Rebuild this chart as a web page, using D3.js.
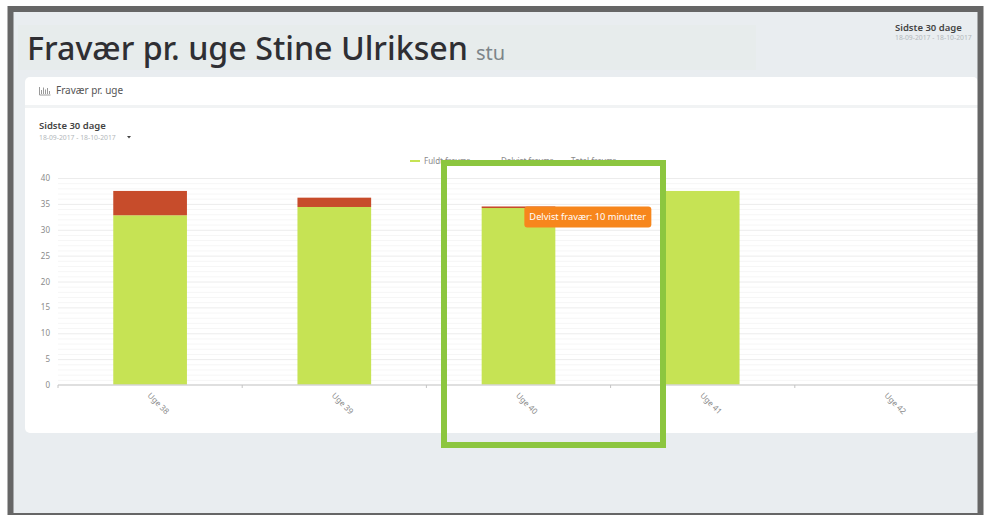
<!DOCTYPE html>
<html>
<head>
<meta charset="utf-8">
<script src="https://cdn.jsdelivr.net/npm/d3@7"></script>
<style>
  body { margin: 0; background: #fff; }
  text { font-family: "Noto Sans", sans-serif; }
  .axis path, .axis line { stroke: #d4d4d4; }
  .axis text { fill: #8a8a8a; }
</style>
</head>
<body>
<div id="chart"></div>
<script>
const weeks = ["Uge 38", "Uge 39", "Uge 40", "Uge 41", "Uge 42"]
const fuldtFravaer = [32.8, 34.4, 34.2, 37.5, 0]
const delvistFravaer = [4.7, 1.8, 0.3, 0, 0]
const legendLabels = ["Fuldt fravær", "Delvist fravær", "Total fravær"]
const legendColors = ["#c6e354", "#f0d9a8", "#e4eebc"]
const yTicks = [0, 5, 10, 15, 20, 25, 30, 35, 40]
const yMinorTicks = d3.range(0, 41)
const tooltipText = "Delvist fravær: 10 minutter"
const pageTitle = "Fravær pr. uge Stine Ulriksen"
const pageUser = "stu"
const panelTitle = "Fravær pr. uge"
const rangeTitle = "Sidste 30 dage"
const rangeDates = "18-09-2017 - 18-10-2017"

const width = 987
const height = 515
const margin = { top: 178, right: 8, bottom: 130, left: 58 }

const svg = d3.select("#chart").append("svg")
  .attr("width", width)
  .attr("height", height)
  .style("display", "block")

// page background, the frame goes on at the end
svg.append("rect").attr("x", 10).attr("y", 9).attr("width", 971).attr("height", 506).attr("fill", "#e9edf0")
svg.append("rect").attr("x", 18).attr("y", 25).attr("width", 738).attr("height", 45).attr("fill", "#e7ecec")

svg.append("text").attr("x", 27).attr("y", 60)
  .attr("font-size", 32.2).attr("font-weight", 500).attr("fill", "#2f2f33")
  .text(pageTitle)
svg.append("text").attr("x", 476).attr("y", 60)
  .attr("font-size", 20).attr("fill", "#7d8589")
  .text(pageUser)

svg.append("text").attr("x", 895).attr("y", 31)
  .attr("font-size", 9.5).attr("font-weight", 600).attr("fill", "#444")
  .text(rangeTitle)
svg.append("text").attr("x", 895).attr("y", 40)
  .attr("font-size", 6.8).attr("fill", "#b3b8bb")
  .text(rangeDates)

// card
svg.append("rect").attr("x", 25).attr("y", 77).attr("width", 953).attr("height", 356).attr("rx", 5).attr("fill", "#fff")
svg.append("rect").attr("x", 25).attr("y", 105).attr("width", 953).attr("height", 3).attr("fill", "#f1f3f4")

const icon = svg.append("g").attr("fill", "none").attr("stroke", "#9a9a9a").attr("stroke-width", 1)
icon.append("path").attr("d", "M39.5 87V95H50.5M41.5 94V90M43.5 94V87.5M45.5 94V89.5M47.5 94V88M49.5 94V91")

svg.append("text").attr("x", 56).attr("y", 94)
  .attr("font-size", 10).attr("fill", "#555")
  .text(panelTitle)
svg.append("text").attr("x", 39).attr("y", 129)
  .attr("font-size", 9.5).attr("font-weight", 600).attr("fill", "#444")
  .text(rangeTitle)
svg.append("text").attr("x", 39).attr("y", 139.5)
  .attr("font-size", 6.8).attr("fill", "#b3b8bb")
  .text(rangeDates)
svg.append("path").attr("d", "M127 136h4l-2 2.5z").attr("fill", "#444")

const innerWidth = width - margin.left - margin.right
const innerHeight = height - margin.top - margin.bottom

const g = svg.append("g")
  .attr("transform", "translate(" + margin.left + "," + margin.top + ")")

const x = d3.scaleBand()
  .domain(weeks)
  .range([0, innerWidth])
  .paddingInner(0.6)
  .paddingOuter(0.3)

const y = d3.scaleLinear()
  .domain([0, 40])
  .range([innerHeight, 0])

g.append("g").selectAll("line")
  .data(yMinorTicks.filter(d => d > 0))
  .join("line")
  .attr("x1", 0)
  .attr("x2", innerWidth)
  .attr("y1", d => y(d) + 0.5)
  .attr("y2", d => y(d) + 0.5)
  .attr("stroke", d => d % 5 === 0 ? "#ececec" : "#f6f6f6")

const rows = weeks.map((w, i) => ({ week: w, fuldt: fuldtFravaer[i], delvist: delvistFravaer[i] }))
const stacked = d3.stack().keys(["fuldt", "delvist"])(rows)
const barColors = { fuldt: "#c6e354", delvist: "#c74c2b" }

g.append("g").selectAll("g")
  .data(stacked)
  .join("g")
  .attr("fill", d => barColors[d.key])
  .selectAll("rect")
  .data(d => d)
  .join("rect")
  .attr("x", d => x(d.data.week))
  .attr("y", d => y(d[1]))
  .attr("width", x.bandwidth())
  .attr("height", d => y(d[0]) - y(d[1]))

const yAxis = g.append("g")
  .attr("class", "axis")
  .call(d3.axisLeft(y).tickValues(yTicks).tickSize(0).tickPadding(8))
yAxis.select(".domain").remove()
yAxis.selectAll("text").attr("font-size", 8)

const xAxis = g.append("g")
  .attr("class", "axis")
  .attr("transform", "translate(0," + innerHeight + ")")
  .call(d3.axisBottom(x).tickSize(0).tickPadding(0))
xAxis.select(".domain").attr("stroke-width", 1.5).attr("d", "M0,0H" + innerWidth)
xAxis.selectAll("text")
  .attr("font-size", 8)
  .attr("text-anchor", "start")
  .attr("transform", "translate(1,7) rotate(45)")

// small marks between the weeks
g.append("g").selectAll("line")
  .data(weeks)
  .join("line")
  .attr("x1", d => x(d) - x.step() * 0.3)
  .attr("x2", d => x(d) - x.step() * 0.3)
  .attr("y1", innerHeight)
  .attr("y2", innerHeight + 3)
  .attr("stroke", "#c4c4c4")

// legend
const legendX = [410, 487, 557]
const legend = svg.append("g").selectAll("g")
  .data(legendLabels)
  .join("g")
  .attr("transform", (d, i) => "translate(" + legendX[i] + ",161)")
legend.append("rect").attr("width", 10).attr("height", 2).attr("y", -1).attr("fill", (d, i) => legendColors[i])
legend.append("text").attr("x", 14).attr("y", 3)
  .attr("font-size", 8).attr("fill", "#8a8a8a")
  .text(d => d)

// tooltip on the Uge 40 bar
const tip = g.append("g")
  .attr("transform", "translate(" + (x("Uge 40") + x.bandwidth() - 31) + "," + y(34.5) + ")")
tip.append("rect").attr("width", 127).attr("height", 21).attr("rx", 3).attr("fill", "#f7861c")
tip.append("text").attr("x", 5).attr("y", 13.5)
  .attr("font-size", 9.3).attr("fill", "#fff")
  .text(tooltipText)

// green highlight box
svg.append("rect").attr("x", 444).attr("y", 163).attr("width", 219).attr("height", 282)
  .attr("fill", "none").attr("stroke", "#8cc63f").attr("stroke-width", 6)

// outer frame
svg.append("rect").attr("x", 10.5).attr("y", 9).attr("width", 970).attr("height", 507)
  .attr("fill", "none").attr("stroke", "#666").attr("stroke-width", 6)
</script>
</body>
</html>
